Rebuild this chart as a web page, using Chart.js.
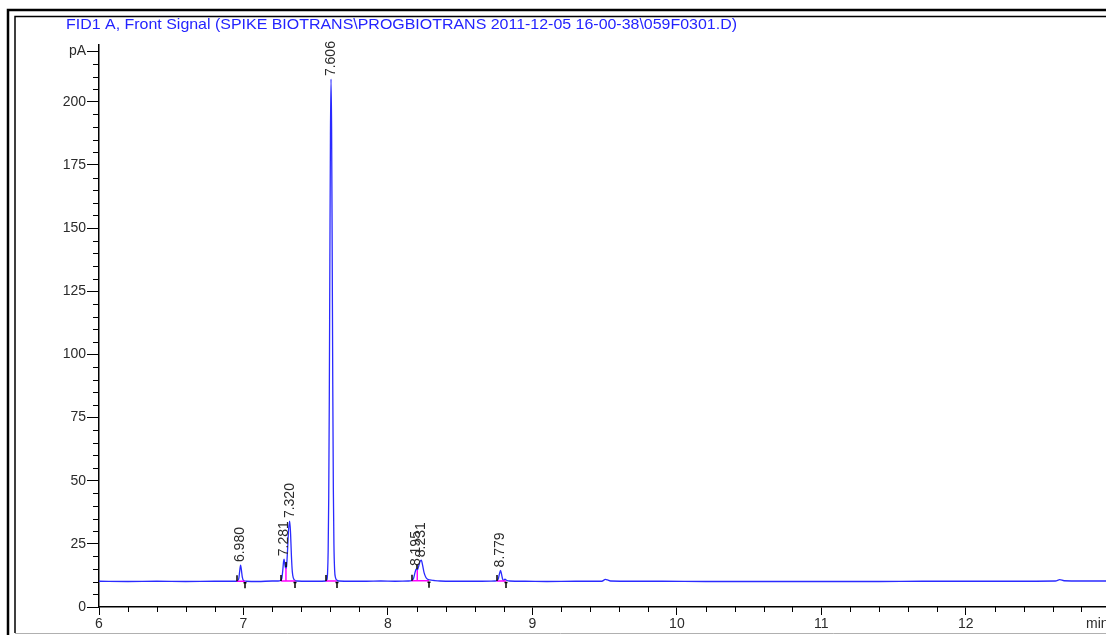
<!DOCTYPE html>
<html>
<head>
<meta charset="utf-8">
<title>FID1 A, Front Signal</title>
<script src="https://cdn.jsdelivr.net/npm/chart.js@4.4.1/dist/chart.umd.min.js"></script>
<style>
  html, body { margin: 0; padding: 0; background: #fff; }
  canvas { display: block; }
</style>
</head>
<body>
<canvas id="chromChart" width="1106" height="635"></canvas>
<script>
// FID trace: retention time (min) and detector signal (pA)
const retTimes = [
    6.00, 6.20, 6.40, 6.60, 6.80, 6.90, 6.95,
    6.960, 6.968, 6.974, 6.980, 6.986, 6.992, 7.000, 7.02,
    7.10, 7.20, 7.24,
    7.255, 7.265, 7.272, 7.277, 7.281, 7.286, 7.292, 7.298, 7.305, 7.312, 7.320,
    7.326, 7.332, 7.338, 7.345, 7.355, 7.37,
    7.45, 7.52, 7.57, 7.578,
    7.582, 7.586, 7.590, 7.594, 7.598, 7.602, 7.606, 7.610, 7.614, 7.618, 7.622,
    7.626, 7.631, 7.637, 7.645, 7.66,
    7.75, 7.85, 7.95, 8.05, 8.14, 8.165,
    8.178, 8.188, 8.195, 8.203, 8.212, 8.222, 8.231, 8.240, 8.250, 8.262, 8.275,
    8.29, 8.32, 8.36, 8.45, 8.55, 8.65, 8.74,
    8.755, 8.765, 8.772, 8.779, 8.786, 8.793, 8.800, 8.810, 8.820, 8.84,
    8.95, 9.10, 9.30, 9.48, 9.505, 9.52, 9.54, 9.70,
    9.90, 10.20, 10.50, 10.80, 11.10, 11.40, 11.70, 12.00, 12.30,
    12.62, 12.65, 12.68, 12.80, 12.97
];
const signalPA = [
    10.2, 10.1, 10.2, 10.1, 10.2, 10.2, 10.2,
    10.3, 11.4, 14.3, 16.6, 14.5, 11.8, 10.5, 10.2,
    10.1, 10.3, 10.3,
    10.4, 11.2, 14.5, 17.8, 18.9, 17.0, 15.2, 16.0, 22.5, 30.5, 34.0,
    29.0, 20.0, 14.0, 11.5, 10.6, 10.3,
    10.2, 10.2, 10.3, 10.9,
    13.5, 22.0, 43.0, 82.0, 137.0, 187.0, 209.0, 189.0, 142.0, 88.0, 47.0,
    25.0, 14.5, 11.6, 10.7, 10.3,
    10.2, 10.2, 10.3, 10.2, 10.3, 10.4,
    11.5, 13.8, 15.0, 14.6, 16.0, 18.0, 18.5, 16.5, 13.6, 11.8, 11.0,
    10.7, 10.5, 10.3, 10.2, 10.2, 10.2, 10.3,
    10.4, 11.4, 13.2, 14.5, 13.0, 11.2, 10.5, 11.0, 10.6, 10.3,
    10.2, 10.1, 10.2, 10.2, 10.9, 10.7, 10.3, 10.2,
    10.2, 10.1, 10.1, 10.1, 10.1, 10.1, 10.2, 10.2, 10.2,
    10.3, 10.8, 10.4, 10.3, 10.3
];

// Integrated peaks (apex time and height)
const peakTimes = [6.980, 7.281, 7.320, 7.606, 8.195, 8.231, 8.779];
const peakHeights = [16.6, 18.9, 34.0, 209.0, 15.0, 18.5, 14.5];

// Integration events: baseline start / end of each peak group
const intStart = [6.953, 7.260, 7.570, 8.164, 8.752];
const intEnd = [7.010, 7.360, 7.645, 8.284, 8.817];
const intBase = [10.2, 10.3, 10.3, 10.4, 10.3];
// Drop lines between fused peaks
const splitTimes = [7.294, 8.203];
const splitHeights = [15.4, 14.6];

// Axis ticks
const xTickValues = [6, 7, 8, 9, 10, 11, 12];
const yTickValues = [0, 25, 50, 75, 100, 125, 150, 175, 200, 220];
const yTickLabels = ['0', '25', '50', '75', '100', '125', '150', '175', '200', 'pA'];

const titleText = 'FID1 A, Front Signal (SPIKE BIOTRANS\\PROGBIOTRANS 2011-12-05 16-00-38\\059F0301.D)';
const fontFamily = '"Liberation Sans", Arial, sans-serif';
const labelColor = '#2b2b2b';

// frame, title, integration marks, minor ticks and peak labels
const chromDecor = {
    id: 'chromDecor',
    beforeDraw(chart) {
        const ctx = chart.ctx;
        ctx.save();
        ctx.fillStyle = '#fff';
        ctx.fillRect(0, 0, chart.width, chart.height);

        // report frame
        ctx.strokeStyle = '#000';
        ctx.lineWidth = 2.5;
        ctx.beginPath();
        ctx.moveTo(8, chart.height);
        ctx.lineTo(8, 10);
        ctx.lineTo(chart.width, 10);
        ctx.stroke();
        ctx.lineWidth = 1.5;
        ctx.beginPath();
        ctx.moveTo(15, 633);
        ctx.lineTo(15, 16.5);
        ctx.lineTo(chart.width, 16.5);
        ctx.stroke();
        ctx.strokeStyle = '#b0b0b0';
        ctx.lineWidth = 1;
        ctx.beginPath();
        ctx.moveTo(15, 633.5);
        ctx.lineTo(chart.width, 633.5);
        ctx.stroke();

        // signal title, squeezed into the header width
        ctx.font = '15px ' + fontFamily;
        const w = ctx.measureText(titleText).width;
        ctx.translate(401.5, 25);
        ctx.scale(671 / w, 1);
        ctx.fillStyle = '#2323ff';
        ctx.textAlign = 'center';
        ctx.textBaseline = 'middle';
        ctx.fillText(titleText, 0, 0);
        ctx.restore();
    },
    afterDatasetsDraw(chart) {
        const { ctx, scales: { x, y } } = chart;
        ctx.save();

        // integration baselines
        ctx.strokeStyle = '#ff00ff';
        ctx.lineWidth = 1.5;
        intStart.forEach((t, i) => {
            const py = y.getPixelForValue(intBase[i]);
            ctx.beginPath();
            ctx.moveTo(x.getPixelForValue(t), py);
            ctx.lineTo(x.getPixelForValue(intEnd[i]), py);
            ctx.stroke();
        });
        splitTimes.forEach((t, i) => {
            const px = x.getPixelForValue(t);
            ctx.beginPath();
            ctx.moveTo(px, y.getPixelForValue(10.3));
            ctx.lineTo(px, y.getPixelForValue(splitHeights[i]));
            ctx.stroke();
        });

        // start / stop event ticks
        ctx.strokeStyle = '#000';
        ctx.lineWidth = 1.5;
        intStart.forEach((t, i) => {
            const px = Math.round(x.getPixelForValue(t));
            const py = y.getPixelForValue(intBase[i]);
            ctx.beginPath();
            ctx.moveTo(px, py);
            ctx.lineTo(px, py - 6);
            ctx.stroke();
        });
        intEnd.forEach((t, i) => {
            const px = Math.round(x.getPixelForValue(t));
            const py = y.getPixelForValue(intBase[i]);
            ctx.beginPath();
            ctx.moveTo(px, py + 1);
            ctx.lineTo(px, py + 7);
            ctx.moveTo(px - 1.5, py + 1.5);
            ctx.lineTo(px + 1.5, py + 1.5);
            ctx.stroke();
        });
        splitTimes.forEach((t, i) => {
            const px = Math.round(x.getPixelForValue(t));
            const py = y.getPixelForValue(splitHeights[i]);
            ctx.beginPath();
            ctx.moveTo(px, py - 1);
            ctx.lineTo(px, py - 6);
            ctx.stroke();
        });

        // retention time labels, rotated above each apex
        ctx.font = '14px ' + fontFamily;
        ctx.fillStyle = labelColor;
        ctx.textAlign = 'left';
        ctx.textBaseline = 'middle';
        peakTimes.forEach((t, i) => {
            ctx.save();
            ctx.translate(x.getPixelForValue(t), y.getPixelForValue(peakHeights[i]) - 3);
            ctx.rotate(-Math.PI / 2);
            ctx.fillText(t.toFixed(3), 0, 0);
            ctx.restore();
        });
        ctx.restore();
    },
    afterDraw(chart) {
        const { ctx, scales: { x, y } } = chart;
        ctx.save();
        ctx.strokeStyle = '#000';
        ctx.lineWidth = 1;

        // minor ticks every 5 pA
        for (let k = 1; k * 5 < y.max; k++) {
            if (k % 5 === 0 || k * 5 === 220) continue;
            const py = Math.round(y.getPixelForValue(k * 5)) + 0.5;
            ctx.beginPath();
            ctx.moveTo(y.right - 6, py);
            ctx.lineTo(y.right, py);
            ctx.stroke();
        }
        // minor ticks every 0.2 min
        for (let k = 31; k / 5 < x.max; k++) {
            if (k % 5 === 0) continue;
            const px = Math.round(x.getPixelForValue(k / 5)) + 0.5;
            ctx.beginPath();
            ctx.moveTo(px, x.top);
            ctx.lineTo(px, x.top + 5);
            ctx.stroke();
        }

        // time unit at the end of the axis
        ctx.font = '14px ' + fontFamily;
        ctx.fillStyle = labelColor;
        ctx.textAlign = 'left';
        ctx.textBaseline = 'top';
        ctx.fillText('min', 1086, x.top + 10);
        ctx.restore();
    }
};

new Chart(document.getElementById('chromChart'), {
    type: 'line',
    data: {
        datasets: [{
            data: retTimes.map((t, i) => ({ x: t, y: signalPA[i] })),
            borderColor: '#2a2aff',
            borderWidth: 1.3,
            pointRadius: 0,
            cubicInterpolationMode: 'monotone',
            fill: false
        }]
    },
    options: {
        responsive: false,
        animation: false,
        events: [],
        layout: { padding: { top: 45, left: 0, right: 0, bottom: 0 } },
        plugins: {
            legend: { display: false },
            tooltip: { enabled: false }
        },
        scales: {
            x: {
                type: 'linear',
                min: 6,
                max: 12.97,
                afterBuildTicks: scale => { scale.ticks = xTickValues.map(v => ({ value: v })); },
                afterFit: scale => { scale.height = 28; },
                ticks: {
                    color: labelColor,
                    font: { family: fontFamily, size: 14 },
                    padding: 1,
                    maxRotation: 0,
                    autoSkip: false,
                    callback: value => String(value)
                },
                grid: { drawOnChartArea: false, tickLength: 8, tickColor: '#000', tickWidth: 1 },
                border: { color: '#000', width: 1.5 }
            },
            y: {
                min: 0,
                max: 222.5,
                afterBuildTicks: scale => { scale.ticks = yTickValues.map(v => ({ value: v })); },
                afterFit: scale => { scale.width = 99; },
                ticks: {
                    color: labelColor,
                    font: { family: fontFamily, size: 14 },
                    padding: 1,
                    autoSkip: false,
                    callback: (value, index) => yTickLabels[index]
                },
                grid: { drawOnChartArea: false, tickLength: 12, tickColor: '#000', tickWidth: 1 },
                border: { color: '#000', width: 1.5 }
            }
        }
    },
    plugins: [chromDecor]
});
</script>
</body>
</html>
